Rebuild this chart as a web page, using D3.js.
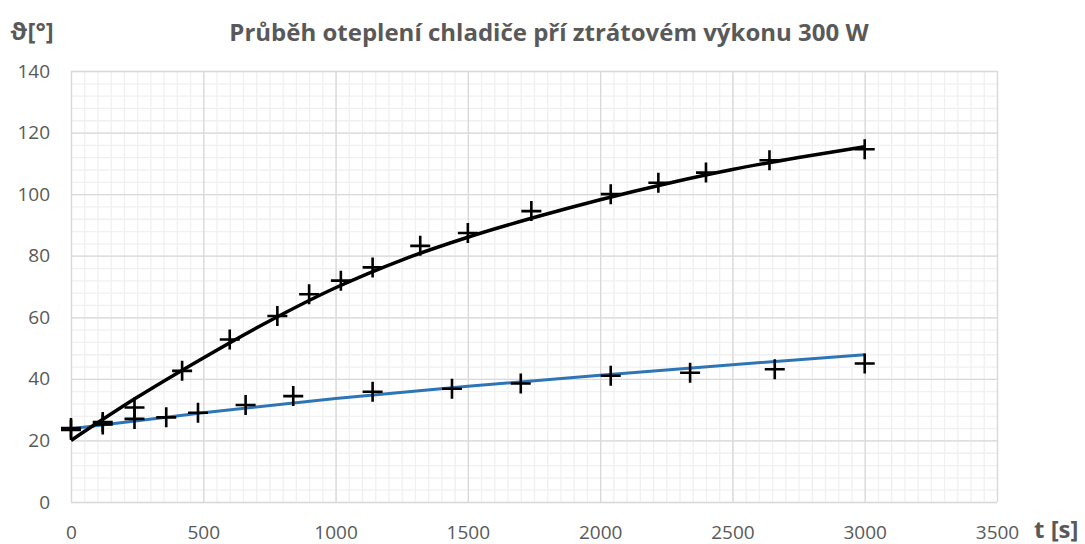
<!DOCTYPE html>
<html>
<head>
<meta charset="utf-8">
<script src="https://cdn.jsdelivr.net/npm/d3@7"></script>
<style>
  body { margin: 0; background: #fff; }
  text { font-family: 'Open Sans', sans-serif; fill: #595959; }
  .axisTitle { font-weight: bold; font-size: 24px; }
</style>
</head>
<body>
<div id="wrapper"></div>
<script>
'use strict';

//#region DATA
// measured points, upper series (black)
const timeUpper = [0, 120, 240, 420, 600, 780, 900, 1020, 1140, 1320, 1500, 1740, 2040, 2220, 2400, 2640, 3000];
const tempUpper = [24, 26, 30.7, 42.6, 52.8, 60.4, 67.5, 71.9, 76.2, 83.2, 87.4, 94.5, 100, 103.7, 107, 111, 114.6];

// measured points, lower series
const timeLower = [0, 120, 240, 360, 480, 660, 840, 1140, 1440, 1700, 2040, 2340, 2660, 3000];
const tempLower = [23.4, 25.2, 27, 27.5, 29, 31.5, 34.4, 35.8, 36.8, 38.5, 41, 42, 43.1, 45];

// trend curves
const trendTimeUpper = [0, 250, 500, 750, 1000, 1250, 1500, 1750, 2000, 2250, 2500, 2750, 3000];
const trendTempUpper = [20, 34, 46.8, 58.8, 69.6, 78.6, 86, 92.4, 98.2, 103.4, 108, 111.9, 115.4];
const trendTimeLower = [0, 500, 1000, 1500, 2000, 2500, 3000];
const trendTempLower = [23.8, 29, 33.6, 37.6, 41.2, 44.6, 47.8];

const xTicks = [0, 500, 1000, 1500, 2000, 2500, 3000, 3500];
const yTicks = [0, 20, 40, 60, 80, 100, 120, 140];

const chartTitle = 'Průběh oteplení chladiče pří ztrátovém výkonu 300 W';
//#endregion DATA

//#region DIMENSIONS
const dimensions = {
  width: 1085,
  height: 544,
  margin: {top: 71, right: 88, bottom: 42, left: 71}
};
dimensions.plotWidth = dimensions.width - dimensions.margin.left - dimensions.margin.right;
dimensions.plotHeight = dimensions.height - dimensions.margin.top - dimensions.margin.bottom;
//#endregion DIMENSIONS

//#region CANVAS
const wrapper = d3.select('#wrapper')
  .append('svg')
  .attr('width', dimensions.width)
  .attr('height', dimensions.height);

const plot = wrapper.append('g')
  .attr('transform', `translate(${dimensions.margin.left},${dimensions.margin.top})`);
//#endregion CANVAS

//#region SCALES
const xScale = d3.scaleLinear()
  .domain([0, 3500])
  .range([0, dimensions.plotWidth]);
const yScale = d3.scaleLinear()
  .domain([0, 140])
  .range([dimensions.plotHeight, 0]);
//#endregion SCALES

//#region GRID
const minorX = d3.range(0, 3501, 50);
const minorY = d3.range(0, 141, 4);

plot.append('g')
  .call(d3.axisBottom(xScale).tickValues(minorX).tickSize(-dimensions.plotHeight).tickFormat(''))
  .attr('transform', `translate(0,${dimensions.plotHeight})`)
  .call(g => g.select('.domain').remove())
  .selectAll('line').attr('stroke', '#f0f0f0').attr('stroke-width', 1.3);
plot.append('g')
  .call(d3.axisLeft(yScale).tickValues(minorY).tickSize(-dimensions.plotWidth).tickFormat(''))
  .call(g => g.select('.domain').remove())
  .selectAll('line').attr('stroke', '#f0f0f0').attr('stroke-width', 1.3);

plot.append('g')
  .call(d3.axisBottom(xScale).tickValues(xTicks).tickSize(-dimensions.plotHeight).tickFormat(''))
  .attr('transform', `translate(0,${dimensions.plotHeight})`)
  .call(g => g.select('.domain').remove())
  .selectAll('line').attr('stroke', '#d9d9d9').attr('stroke-width', 1.3);
plot.append('g')
  .call(d3.axisLeft(yScale).tickValues(yTicks).tickSize(-dimensions.plotWidth).tickFormat(''))
  .call(g => g.select('.domain').remove())
  .selectAll('line').attr('stroke', '#d9d9d9').attr('stroke-width', 1.3);
//#endregion GRID

//#region AXES
const xAxis = plot.append('g')
  .attr('transform', `translate(0,${dimensions.plotHeight})`)
  .call(d3.axisBottom(xScale).tickValues(xTicks).tickSize(0).tickPadding(24).tickFormat(d3.format('d')));
xAxis.select('.domain').remove();
xAxis.selectAll('text').style('font-size', '19px').attr('fill', '#595959');

const yAxis = plot.append('g')
  .call(d3.axisLeft(yScale).tickValues(yTicks).tickSize(0).tickPadding(21).tickFormat(d3.format('d')));
yAxis.select('.domain').remove();
yAxis.selectAll('text').style('font-size', '19px').attr('fill', '#595959');
//#endregion AXES

//#region DRAW DATA
const lineGen = d3.line()
  .x(d => xScale(d[0]))
  .y(d => yScale(d[1]))
  .curve(d3.curveMonotoneX);

plot.append('path')
  .datum(d3.zip(trendTimeLower, trendTempLower))
  .attr('d', lineGen)
  .attr('fill', 'none')
  .attr('stroke', '#2e75b6')
  .attr('stroke-width', 3);

plot.append('path')
  .datum(d3.zip(trendTimeUpper, trendTempUpper))
  .attr('d', lineGen)
  .attr('fill', 'none')
  .attr('stroke', '#000')
  .attr('stroke-width', 3.5);

// "+" markers
const crossPath = 'M-10,0H10M0,-10V10';
const points = d3.zip(timeUpper, tempUpper).concat(d3.zip(timeLower, tempLower));
plot.append('g')
  .selectAll('path')
  .data(points)
  .join('path')
  .attr('d', crossPath)
  .attr('transform', d => `translate(${xScale(d[0])},${yScale(d[1])})`)
  .attr('stroke', '#000')
  .attr('stroke-width', 2.6)
  .attr('fill', 'none');
//#endregion DRAW DATA

//#region PERIPHERALS
wrapper.append('text')
  .attr('x', 549)
  .attr('y', 41)
  .attr('text-anchor', 'middle')
  .style('font-size', '24px')
  .style('font-weight', 'bold')
  .text(chartTitle);

wrapper.append('text')
  .attr('class', 'axisTitle')
  .attr('x', 10)
  .attr('y', 40)
  .text('ϑ[°]');

wrapper.append('text')
  .attr('class', 'axisTitle')
  .attr('x', 1034)
  .attr('y', 538)
  .text('t [s]');
//#endregion PERIPHERALS
</script>
</body>
</html>
